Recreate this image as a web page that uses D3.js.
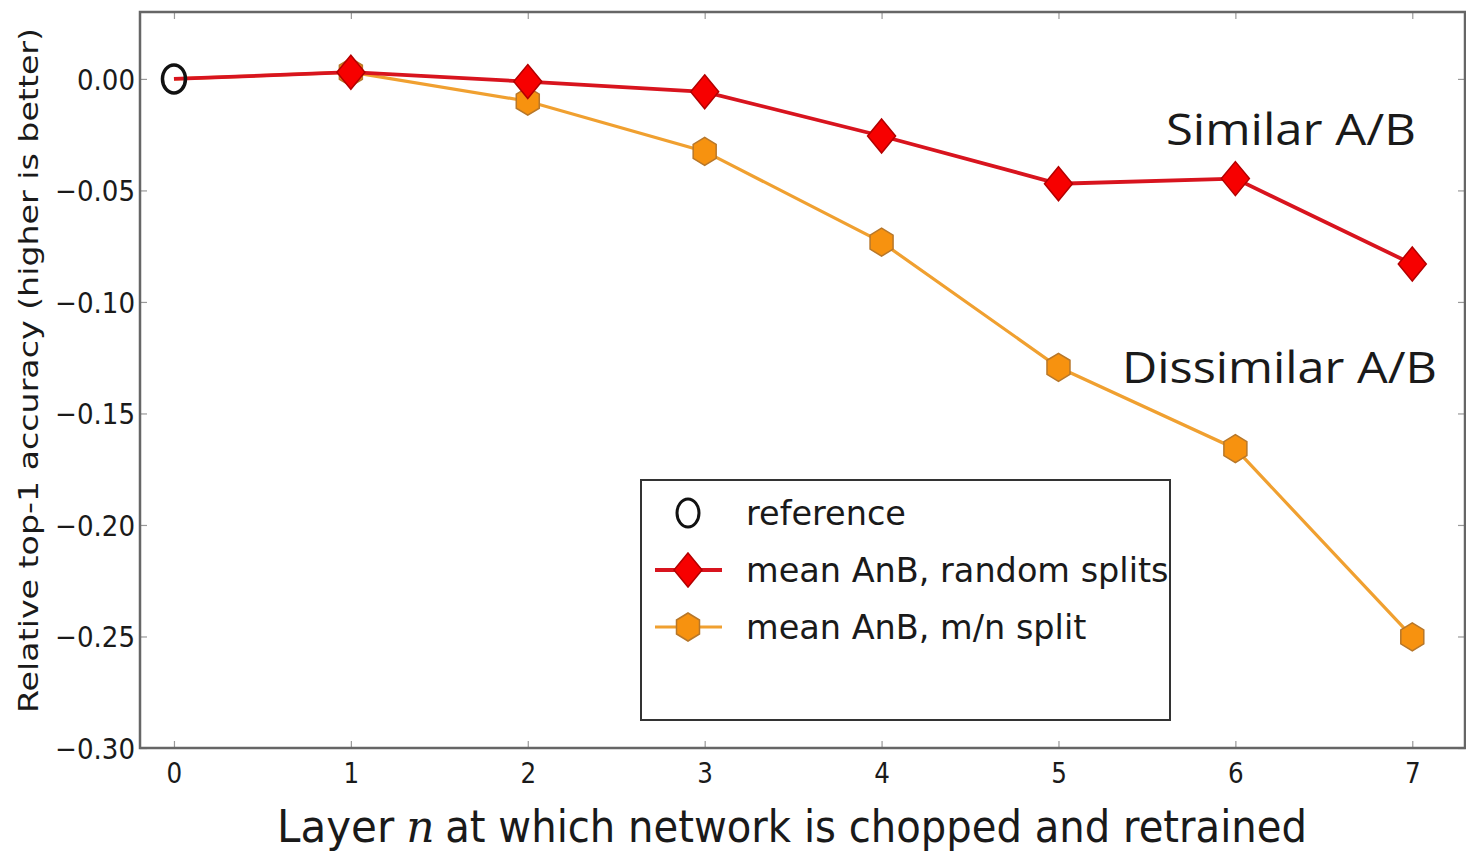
<!DOCTYPE html>
<html>
<head>
<meta charset="utf-8">
<script src="https://cdn.jsdelivr.net/npm/d3@7"></script>
<style>
  body { margin: 0; background: #fff; }
  text { font-family: "DejaVu Sans", sans-serif; fill: #1a1a1a; }
</style>
</head>
<body>
<div id="chart"></div>
<script>
// data
const layers = [0, 1, 2, 3, 4, 5, 6, 7]
const randomSplits = [0.000, 0.003, -0.0012, -0.0058, -0.0256, -0.0470, -0.0447, -0.0830]
const mnSplit = [0.000, 0.003, -0.0100, -0.0325, -0.0732, -0.1293, -0.1658, -0.2502]
const referenceX = [0]
const referenceY = [0]
const yTicks = [0.00, -0.05, -0.10, -0.15, -0.20, -0.25, -0.30]
const legendLabels = ["reference", "mean AnB, random splits", "mean AnB, m/n split"]

var margin = {top: 12, right: 1, bottom: 108, left: 140},
    width = 1466 - margin.left - margin.right,
    height = 856 - margin.top - margin.bottom;

var root = d3.select("#chart")
  .append("svg")
    .attr("width", 1466)
    .attr("height", 856)
var svg = root.append("g")
    .attr("transform", "translate(" + margin.left + "," + margin.top + ")");

var x = d3.scaleLinear().domain([-0.192, 7.298]).range([0, width])
var y = d3.scaleLinear().domain([-0.30, 0.03]).range([height, 0])

// squeeze text horizontally a bit, the picture is a little stretched vertically
function squeeze(sel, k) {
  sel.each(function() {
    var w = this.getComputedTextLength()
    d3.select(this).attr("textLength", w * k).attr("lengthAdjust", "spacingAndGlyphs")
  })
}

// axes with inward ticks on all four sides
var gx = svg.append("g")
    .attr("transform", "translate(0," + height + ")")
    .call(d3.axisBottom(x).tickValues(layers).tickFormat(d3.format("d")).tickSize(-7).tickPadding(15))
var gxTop = svg.append("g")
    .call(d3.axisTop(x).tickValues(layers).tickFormat("").tickSize(-7))
var gy = svg.append("g")
    .call(d3.axisLeft(y).tickValues(yTicks).tickFormat(d3.format(".2f")).tickSize(-7).tickPadding(5))
var gyRight = svg.append("g")
    .attr("transform", "translate(" + width + ",0)")
    .call(d3.axisRight(y).tickValues(yTicks).tickFormat("").tickSize(-7))

svg.selectAll(".domain").remove()
svg.selectAll(".tick line").attr("stroke", "#999").attr("stroke-width", 1.2)
gx.selectAll("text").style("font-size", "28px").attr("fill", "#1a1a1a")
gy.selectAll("text").style("font-size", "29px").attr("fill", "#1a1a1a").attr("dy", "0.36em")
squeeze(gx.selectAll("text"), 0.88)
squeeze(gy.selectAll("text"), 0.9)

svg.append("rect")
    .attr("width", width)
    .attr("height", height)
    .attr("fill", "none")
    .attr("stroke", "#666")
    .attr("stroke-width", 2.5)

// markers
function diamond(cx, cy) {
  return "M" + cx + "," + (cy - 17) + "L" + (cx + 14) + "," + cy + "L" + cx + "," + (cy + 17) + "L" + (cx - 14) + "," + cy + "Z"
}
function hexagon(cx, cy) {
  var rx = 11.5, ry = 14
  return "M" + cx + "," + (cy - ry) +
    "L" + (cx + rx) + "," + (cy - ry / 2) +
    "L" + (cx + rx) + "," + (cy + ry / 2) +
    "L" + cx + "," + (cy + ry) +
    "L" + (cx - rx) + "," + (cy + ry / 2) +
    "L" + (cx - rx) + "," + (cy - ry / 2) + "Z"
}

var line = d3.line().x((d, i) => x(layers[i])).y(d => y(d))

// orange series first, red goes on top
svg.append("path")
    .datum(mnSplit)
    .attr("d", line)
    .attr("fill", "none")
    .attr("stroke", "#f0a030")
    .attr("stroke-width", 3.2)
svg.selectAll(".hex")
    .data(mnSplit.slice(1))
    .enter()
    .append("path")
      .attr("d", (d, i) => hexagon(x(layers[i + 1]), y(d)))
      .attr("fill", "#f7920f")
      .attr("stroke", "#b7772a")
      .attr("stroke-width", 1.5)

svg.append("path")
    .datum(randomSplits)
    .attr("d", line)
    .attr("fill", "none")
    .attr("stroke", "#d8141e")
    .attr("stroke-width", 3.8)
svg.selectAll(".dia")
    .data(randomSplits.slice(1))
    .enter()
    .append("path")
      .attr("d", (d, i) => diamond(x(layers[i + 1]), y(d)))
      .attr("fill", "#f70000")
      .attr("stroke", "#b30000")
      .attr("stroke-width", 1.5)

svg.selectAll(".ref")
    .data(referenceY)
    .enter()
    .append("ellipse")
      .attr("cx", (d, i) => x(referenceX[i]))
      .attr("cy", d => y(d))
      .attr("rx", 11.5)
      .attr("ry", 14)
      .attr("fill", "none")
      .attr("stroke", "#111")
      .attr("stroke-width", 3.5)

// annotations
svg.append("text")
    .attr("x", 1166 - margin.left).attr("y", 145 - margin.top)
    .style("font-family", "'Open Sans', sans-serif")
    .style("font-size", "44px").attr("fill", "#111")
    .attr("textLength", 250).attr("lengthAdjust", "spacingAndGlyphs")
    .text("Similar A/B")
svg.append("text")
    .attr("x", 1122 - margin.left).attr("y", 383 - margin.top)
    .style("font-family", "'Open Sans', sans-serif")
    .style("font-size", "44px").attr("fill", "#111")
    .attr("textLength", 315).attr("lengthAdjust", "spacingAndGlyphs")
    .text("Dissimilar A/B")

// legend
var lg = svg.append("g").attr("transform", "translate(" + (641 - margin.left) + "," + (480 - margin.top) + ")")
lg.append("rect")
    .attr("width", 529).attr("height", 240)
    .attr("fill", "#fff").attr("stroke", "#333").attr("stroke-width", 2)
var rowY = [33, 90, 147]
lg.append("ellipse").attr("cx", 47).attr("cy", rowY[0]).attr("rx", 11).attr("ry", 14)
    .attr("fill", "none").attr("stroke", "#111").attr("stroke-width", 3)
lg.append("line").attr("x1", 14).attr("x2", 81).attr("y1", rowY[1]).attr("y2", rowY[1])
    .attr("stroke", "#d8141e").attr("stroke-width", 3.8)
lg.append("path").attr("d", diamond(47, rowY[1])).attr("fill", "#f70000").attr("stroke", "#b30000").attr("stroke-width", 1.5)
lg.append("line").attr("x1", 14).attr("x2", 81).attr("y1", rowY[2]).attr("y2", rowY[2])
    .attr("stroke", "#f0a030").attr("stroke-width", 3.2)
lg.append("path").attr("d", hexagon(47, rowY[2])).attr("fill", "#f7920f").attr("stroke", "#b7772a").attr("stroke-width", 1.5)
lg.selectAll(".lt")
    .data(legendLabels)
    .enter()
    .append("text")
      .attr("x", 105)
      .attr("y", (d, i) => rowY[i] + 12)
      .style("font-size", "33.5px")
      .text(d => d)

// x axis title, the italic n is its own text
var k = 0.955
var xa = root.append("text").attr("x", 277).attr("y", 842).style("font-size", "44px").text("Layer")
var wa = xa.node().getComputedTextLength() * k
xa.attr("textLength", wa).attr("lengthAdjust", "spacingAndGlyphs")
var xn = root.append("text").attr("x", 277 + wa + 12).attr("y", 842)
    .style("font-size", "44px").style("font-family", "'DejaVu Serif', serif").style("font-style", "italic")
    .text("n")
var wn = xn.node().getComputedTextLength() * k
var xc = root.append("text").attr("x", 277 + wa + 12 + wn + 12).attr("y", 842).style("font-size", "44px")
    .text("at which network is chopped and retrained")
xc.attr("textLength", 1307 - (277 + wa + 24 + wn)).attr("lengthAdjust", "spacingAndGlyphs")

root.append("text")
    .attr("transform", "translate(38,713) rotate(-90)")
    .style("font-size", "26.5px")
    .attr("textLength", 685).attr("lengthAdjust", "spacingAndGlyphs")
    .text("Relative top-1 accuracy (higher is better)")
</script>
</body>
</html>
